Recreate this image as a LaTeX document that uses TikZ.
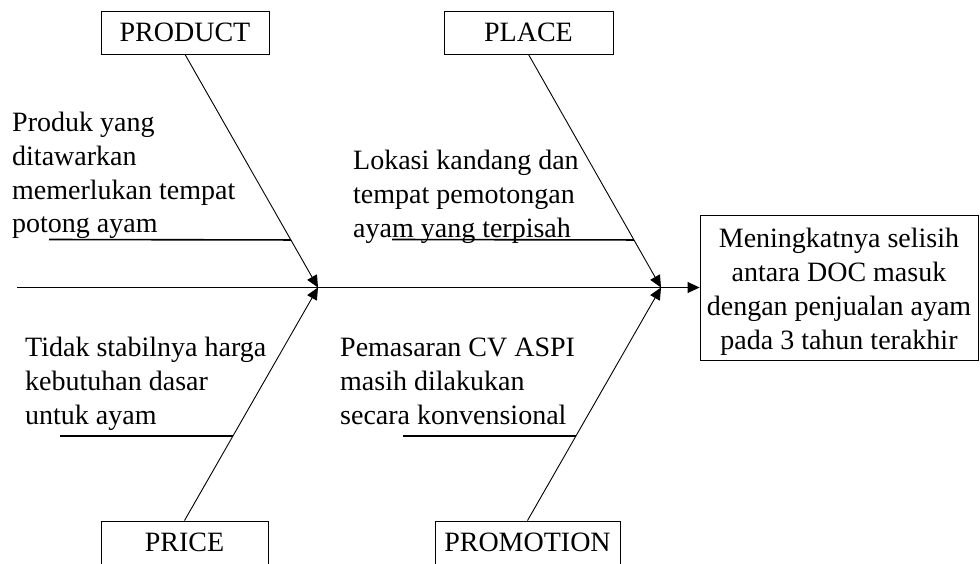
\documentclass[tikz,border=0pt]{standalone}
\usepackage{fontspec}
\setmainfont{Liberation Serif}
\usetikzlibrary{arrows.meta,calc}
\begin{document}
\begin{tikzpicture}[x=1pt,y=-1pt,
  catbox/.style={draw, line width=0.9pt, minimum width=168pt, minimum height=43pt, inner sep=0pt, font=\fontsize{28}{34}\selectfont},
  causetext/.style={anchor=north west, inner sep=0pt, align=left, font=\fontsize{28}{33.7}\selectfont},
  bone/.style={line width=0.9pt, -{Triangle[length=12pt,width=11pt]}},
  underl/.style={line width=1.6pt}]
\clip (0,0) rectangle (980,563);
% category boxes
\node[catbox] (product) at (185,32.5) {PRODUCT};
\node[catbox, minimum width=169pt] (place) at (528.5,32.5) {PLACE};
\node[catbox, minimum width=167pt] (price) at (184.5,542.5) {PRICE};
\node[catbox, minimum width=185pt] (promo) at (527.5,542.5) {PROMOTION};
% effect box
\node[draw, line width=0.9pt, minimum width=278pt, minimum height=145pt, inner sep=0pt] (effect) at (839,287.5) {};
\node[align=center, inner sep=0pt, font=\fontsize{28}{34}\selectfont] (efftext) at (839,292) {Meningkatnya selisih\\antara DOC masuk\\dengan penjualan ayam\\pada 3 tahun terakhir};
% cause texts
\node[causetext] (t1) at (12,112) {Produk yang\\ditawarkan\\memerlukan tempat\\potong ayam};
\node[causetext] (t2) at (353,150) {Lokasi kandang dan\\tempat pemotongan\\ayam yang terpisah};
\node[causetext] (t3) at (25,337) {Tidak stabilnya harga\\kebutuhan dasar\\untuk ayam};
\node[causetext] (t4) at (340,338) {Pemasaran CV ASPI\\masih dilakukan\\secara konvensional};
% spine
\coordinate (tail) at (17,287.5);
\coordinate (j1) at (318,287.5);
\coordinate (j2) at (661,287.5);
\draw[bone] (tail) -- (effect.west);
\draw[bone] (product.south) -- (j1);
\draw[bone] (price.north) -- (j1);
\draw[bone] (place.south) -- (j2);
\draw[bone] (promo.north) -- (j2);
% underlines
\coordinate (u1) at (49,239.5);
\coordinate (u2) at (392,239.5);
\coordinate (u3) at (60,436);
\coordinate (u4) at (403,436);
\draw[underl] (u1) -- ($(product.south)!0.796!(j1)$);
\draw[underl] (u2) -- ($(place.south)!0.796!(j2)$);
\draw[underl] (u3) -- ($(price.north)!0.363!(j1)$);
\draw[underl] (u4) -- ($(promo.north)!0.363!(j2)$);
\end{tikzpicture}
\end{document}
